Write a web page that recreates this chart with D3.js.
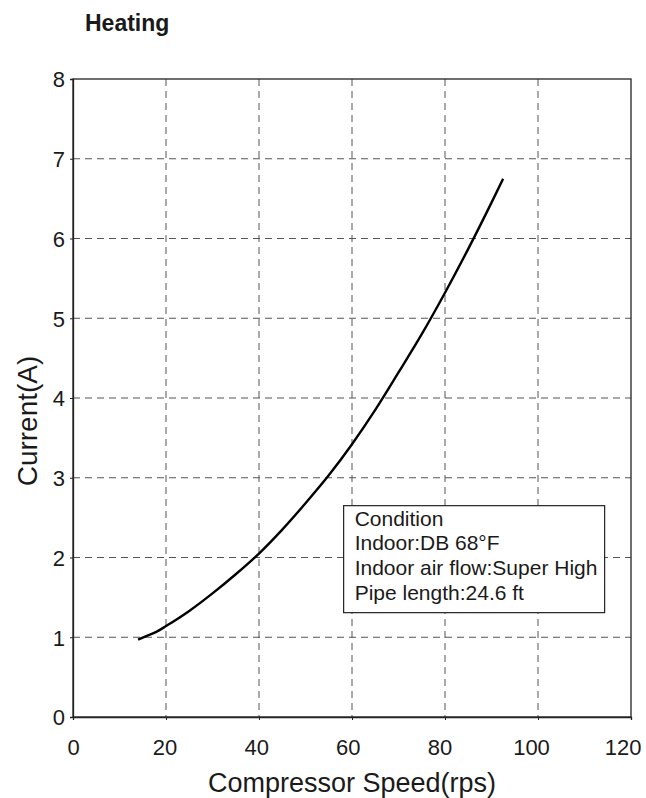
<!DOCTYPE html>
<html>
<head>
<meta charset="utf-8">
<script src="https://cdn.jsdelivr.net/npm/d3@7"></script>
<style>
  body { margin: 0; background: #fff; }
  text { font-family: "Liberation Sans", Arial, sans-serif; fill: #1a1a1a; }
</style>
</head>
<body>
<div class="canva"></div>
<script>
// data
const speeds   = [14, 16, 18, 20, 25, 30, 35, 40, 45, 50, 55, 60, 65, 70, 75, 80, 85, 90, 92.5];
const currents = [0.97, 1.02, 1.07, 1.14, 1.33, 1.55, 1.79, 2.05, 2.35, 2.68, 3.03, 3.42, 3.85, 4.32, 4.8, 5.32, 5.87, 6.45, 6.75];
const xTicks = [0, 20, 40, 60, 80, 100, 120];
const yTicks = [0, 1, 2, 3, 4, 5, 6, 7, 8];
const conditionLines = ["Condition", "Indoor:DB 68°F", "Indoor air flow:Super High", "Pipe length:24.6 ft"];

const svg = d3.select(".canva").append("svg")
    .attr("width", 646)
    .attr("height", 798);

const margin = {top: 79, left: 73, right: 15, bottom: 81};
const width = 646 - margin.left - margin.right;
const height = 798 - margin.top - margin.bottom;

const x = d3.scaleLinear().domain([0, 120]).range([0, width]);
const y = d3.scaleLinear().domain([0, 8]).range([height, 0]);

const g = svg.append("g")
    .attr("transform", `translate(${margin.left},${margin.top})`);

//title
svg.append("text")
    .attr("x", 85).attr("y", 31)
    .style("font-size", "23px")
    .style("font-weight", "bold")
    .text("Heating");

//grid
g.selectAll(".vgrid")
    .data(xTicks.slice(1, -1))
    .enter().append("line")
    .attr("x1", d => x(d)).attr("x2", d => x(d))
    .attr("y1", 0).attr("y2", height)
    .attr("stroke", "#555")
    .attr("stroke-dasharray", "7,5");

g.selectAll(".hgrid")
    .data(yTicks.slice(1, -1))
    .enter().append("line")
    .attr("x1", 0).attr("x2", width)
    .attr("y1", d => y(d)).attr("y2", d => y(d))
    .attr("stroke", "#555")
    .attr("stroke-dasharray", "7,5");

//axes
const xAxis = d3.axisBottom(x).tickValues(xTicks).tickSize(3).tickPadding(19);
const yAxis = d3.axisLeft(y).tickValues(yTicks).tickSize(3).tickPadding(5);

g.append("g").attr("transform", `translate(0,${height})`).call(xAxis)
    .call(a => a.selectAll("text")
        .style("font-size", "22px")
        .attr("dx", d => -d * 0.07));
g.append("g").call(yAxis)
    .call(a => a.selectAll("text").style("font-size", "22px").attr("dy", "0.36em"));

g.selectAll(".domain").attr("stroke", "#222").attr("stroke-width", 1.3);
g.selectAll(".tick line").attr("stroke", "#222");

//box around plot
g.append("rect")
    .attr("width", width).attr("height", height)
    .attr("fill", "none")
    .attr("stroke", "#222")
    .attr("stroke-width", 1.3);

//curve
const line = d3.line()
    .x((d, i) => x(speeds[i]))
    .y(d => y(d))
    .curve(d3.curveMonotoneX);

g.append("path")
    .datum(currents)
    .attr("d", line)
    .attr("fill", "none")
    .attr("stroke", "#000")
    .attr("stroke-width", 2.4);

//condition box
const box = g.append("g")
    .attr("transform", `translate(${x(58.2)},${y(2.65)})`);

box.append("rect")
    .attr("width", 261).attr("height", 107)
    .attr("fill", "#fff")
    .attr("stroke", "#222")
    .attr("stroke-width", 1.2);

box.selectAll("text")
    .data(conditionLines)
    .enter().append("text")
    .attr("x", 11)
    .attr("y", (d, i) => 20 + i * 24.7)
    .style("font-size", "21px")
    .text(d => d);

//axis labels
svg.append("text")
    .attr("x", 352)
    .attr("y", 792)
    .attr("text-anchor", "middle")
    .style("font-size", "27px")
    .text("Compressor Speed(rps)");

svg.append("text")
    .attr("transform", "translate(37,421) rotate(-90)")
    .attr("text-anchor", "middle")
    .style("font-size", "28px")
    .text("Current(A)");
</script>
</body>
</html>
